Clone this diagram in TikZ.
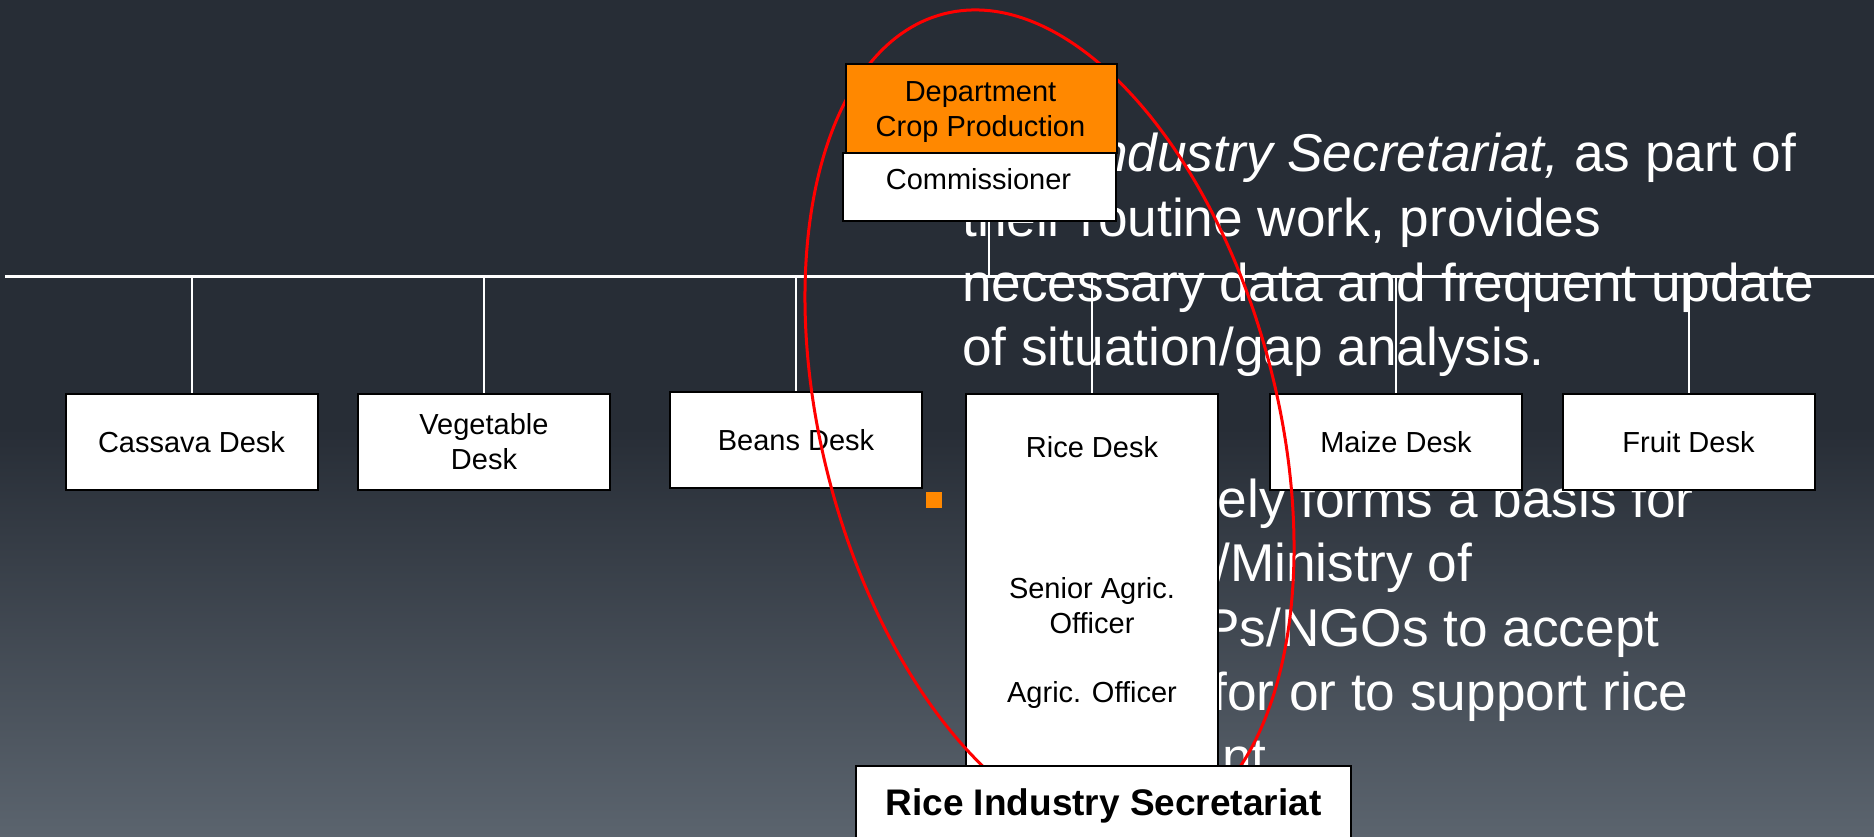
\documentclass[tikz,border=0pt]{standalone}
\usepackage{fontspec}
\setmainfont{Liberation Sans}
\usetikzlibrary{positioning,calc}
\definecolor{hgOben}{RGB}{39,45,54}
\definecolor{hgUnten}{RGB}{91,100,110}
\definecolor{orangeKasten}{RGB}{255,136,0}
\tikzset{
  kasten/.style={draw=black,line width=2pt,fill=white,inner sep=0pt,align=center,minimum width=252pt,minimum height=96pt,font=\fontsize{29}{35}\selectfont},
  beschriftung/.style={inner sep=0pt,align=center,font=\fontsize{29}{35}\selectfont},
  linie/.style={draw=white,line width=2pt},
  fliess/.style={white,anchor=base west,inner sep=0pt,font=\fontsize{53.2}{64}\selectfont},
  punkt/.style={fill=orangeKasten,minimum size=16pt,inner sep=0pt}
}
\begin{document}
\begin{tikzpicture}[x=1pt,y=-1pt]
%Alle Maße in Pixeln des Bildes (1874 x 837), y zeigt nach unten
  \pgfmathsetmacro{\busY}{276}
  \pgfmathsetmacro{\deskY}{393}
  \useasboundingbox (0,0) rectangle (1874,837);
%Hintergrund: oben einfarbig, ab der Mitte heller werdend
\fill[hgOben] (0,0) rectangle (1874,429);
\shade[top color=hgOben,bottom color=hgUnten] (0,428) rectangle (1874,837);
%Fliesstext der Folie, nur die sichtbaren Stuecke
\node[punkt] (punktA) at (934,155) {};
\node[punkt] (punktB) at (934,500) {};
\foreach \xa/\yb/\zeile [count=\i] in {1098/172/{\textit{ndustry Secretariat,} as part of},962/236.5/{their routine work, provides},962/301/{necessary data and frequent update},962/365.5/{of situation/gap analysis.},1217.5/517/{ely forms a basis for},1215/581.5/{/Ministry of},1204/646/{Ps/NGOs to accept},1212/710.5/{for or to support rice},1222/775/{nt}}{
\node[fliess] (zeile\i) at (\xa,\yb) {\zeile};
}
%Querlinie
\coordinate (busL) at (5,\busY);
\coordinate (busR) at (1874,\busY);
\draw[linie,line width=3pt] (busL) -- (busR);
%Desks
\foreach \name/\cx/\ytop/\txt in {cassava/191.5/\deskY/Cassava Desk,gemuese/484/\deskY/{Vegetable\\Desk},bohnen/796/391/Beans Desk,mais/1396/\deskY/Maize Desk,frucht/1688.5/\deskY/Fruit Desk}{
\node[kasten,anchor=north] (\name) at (\cx,\ytop) {\txt};
}
\node[kasten,anchor=north,minimum height=407pt] (reis) at (1092,\deskY) {};
\node[beschriftung] (reisT) at (1092,447) {Rice Desk};
\node[beschriftung] (sao) at (1092,605.5) {Senior Agric.\\Officer};
\node[beschriftung] (ao) at (1092,695) {Agric. Officer};
\foreach \name in {cassava,gemuese,bohnen,reis,mais,frucht}{
\draw[linie] (\name.north |- busL) -- (\name.north);
}
%roter Kreis um den Reis-Zweig
\draw[red,line width=3pt,rotate around={14.55:(1049.5,422.5)}] (1049.5,422.5) ellipse [x radius=227.6pt,y radius=422.1pt];
%Abteilung oben
\node[kasten,anchor=north west,minimum width=273pt,minimum height=68pt] (komm) at (842,152) {};
\node[beschriftung] (kommT) at (978.5,179) {Commissioner};
\node[kasten,anchor=north west,fill=orangeKasten,minimum width=271pt,minimum height=89pt] (abt) at (845,63) {};
\node[beschriftung] (abtT) at (980.5,112.5) {Department\\Crop Production};
\draw[linie] ([xshift=9.5pt]komm.south) -- ([xshift=9.5pt]komm.south |- busL);
%Sekretariat unten
\node[kasten,anchor=north west,minimum width=495pt,minimum height=80pt,font=\bfseries\fontsize{37}{44}\selectfont] (sekr) at (855,765) {Rice Industry Secretariat};
\end{tikzpicture}
\end{document}
